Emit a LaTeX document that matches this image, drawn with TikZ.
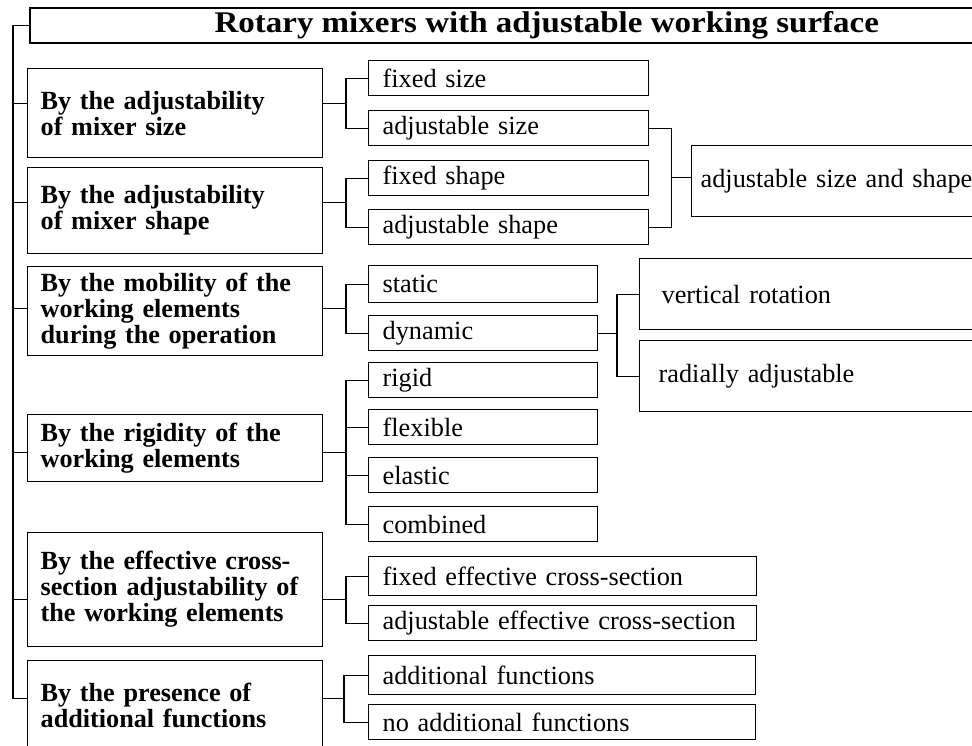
\documentclass[tikz,border=0pt]{standalone}
\usepackage{fontspec}
\setmainfont{Liberation Serif}
\newfontfamily\titlefont{Liberation Serif}[FakeStretch=1.1]
\usetikzlibrary{calc}

\tikzset{
    conn/.style={line width=1.1pt},
    box/.style={draw, line width=1.3pt, anchor=north west, inner ysep=0pt, align=left},
    titlebox/.style={box, line width=1.6pt, align=center, minimum width=1034pt, minimum height=35pt,
        font=\titlefont\fontsize{30}{32}\selectfont\bfseries},
    catbox/.style={box, inner xsep=13pt, text width=269pt, minimum height=#1,
        font=\fontsize{26.2}{26}\selectfont\bfseries},
    optbox/.style 2 args={box, inner xsep=14pt, text width=#1, minimum height=#2,
        font=\fontsize{26.3}{28}\selectfont},
    farbox/.style 2 args={box, inner xsep=#1, text width=500pt, minimum height=#2,
        font=\fontsize{26.3}{28}\selectfont},
}

\begin{document}
\begin{tikzpicture}[x=1pt, y=-1pt]

    \clip (0,0) rectangle (972,746);

    % Title
    \node[titlebox] (title) at (29,7) {Rotary mixers with adjustable working surface};

    % Classification features
    \node[catbox=89pt] (cat1) at (27,68) {By the adjustability\\of mixer size};
    \node[catbox=86pt] (cat2) at (27,167) {By the adjustability\\of mixer shape};
    \node[catbox=89pt] (cat3) at (27,266) {By the mobility of the\\working elements\\during the operation};
    \node[catbox=67pt] (cat4) at (27,414) {By the rigidity of the\\working elements};
    \node[catbox=114pt] (cat5) at (27,532) {By the effective cross-\\section adjustability of\\the working elements};
    \node[catbox=90pt] (cat6) at (27,660) {By the presence of\\additional functions};

    % Options
    \node[optbox={252pt}{35pt}] (fixsize) at (368,60) {fixed size};
    \node[optbox={252pt}{35pt}] (adjsize) at (368,110) {adjustable size};
    \node[optbox={252pt}{35pt}] (fixshape) at (368,160) {fixed shape};
    \node[optbox={252pt}{35pt}] (adjshape) at (368,209) {adjustable shape};

    \node[optbox={201pt}{37pt}] (static) at (368,265) {static};
    \node[optbox={201pt}{35pt}] (dynamic) at (368,315) {dynamic};

    \node[optbox={201pt}{35pt}] (rigid) at (368,362) {rigid};
    \node[optbox={201pt}{35pt}] (flexible) at (368,409) {flexible};
    \node[optbox={201pt}{35pt}] (elastic) at (368,457) {elastic};
    \node[optbox={201pt}{35pt}] (combined) at (368,506) {combined};

    \node[optbox={360pt}{39pt}] (fixcs) at (368,556) {fixed effective cross-section};
    \node[optbox={360pt}{35pt}] (adjcs) at (368,605) {adjustable effective cross-section};

    \node[optbox={359pt}{39pt}] (addf) at (368,655) {additional functions};
    \node[optbox={359pt}{35pt}] (noaddf) at (368,704) {no additional functions};

    % Combined and sub-options
    \node[farbox={9pt}{71pt}] (sizeshape) at (691,145) {adjustable size and shape};
    \node[farbox={22pt}{71pt}] (vertrot) at (639,258) {vertical rotation};
    \node[farbox={19pt}{71pt}] (radial) at (639,340) {radially adjustable};

    % Brackets to the options
    \draw[conn] (fixsize.west) -- ++(-22,0) |- (adjsize.west);
    \draw[conn] (fixshape.west) -- ++(-22,0) |- (adjshape.west);
    \draw[conn] (static.west) -- ++(-22,0) |- (dynamic.west);
    \draw[conn] (rigid.west) -- ++(-22,0) |- (combined.west);
    \draw[conn] (flexible.west) -- ++(-22,0);
    \draw[conn] (elastic.west) -- ++(-22,0);
    \draw[conn] (fixcs.west) -- ++(-22,0) |- (adjcs.west);
    \draw[conn] (addf.west) -- ++(-24,0) |- (noaddf.west);

    \coordinate (j1) at ($(fixsize.west)!0.5!(adjsize.west)+(-22,0)$);
    \coordinate (j2) at ($(fixshape.west)!0.5!(adjshape.west)+(-22,0)$);
    \coordinate (j3) at ($(static.west)!0.5!(dynamic.west)+(-22,0)$);
    \coordinate (j4) at ($(rigid.west)!0.5!(combined.west)+(-22,0)$);
    \coordinate (j5) at ($(fixcs.west)!0.5!(adjcs.west)+(-22,0)$);
    \coordinate (j6) at ($(addf.west)!0.5!(noaddf.west)+(-24,0)$);

    \foreach \i in {1,...,6}{
        \draw[conn] (j\i) -- (j\i -| cat\i.east);
    }

    % Spine
    \draw[conn] (title.west) -- ++(-16,0) coordinate (s0) |- (j6 -| cat6.west);
    \foreach \i in {1,...,5}{
        \draw[conn] (j\i -| s0) -- (j\i -| cat\i.west);
    }

    % Merging size and shape
    \draw[conn] (adjsize.east) -- ++(22,0) |- (adjshape.east);
    \coordinate (m1) at ($(adjsize.east)!0.5!(adjshape.east)+(22,0)$);
    \draw[conn] (m1) -- (m1 -| sizeshape.west);

    % Dynamic elements
    \draw[conn] (vertrot.west) -- ++(-22,0) |- (radial.west);
    \draw[conn] (dynamic.east) -- ([xshift=-22pt]vertrot.west |- dynamic.east);

\end{tikzpicture}
\end{document}
